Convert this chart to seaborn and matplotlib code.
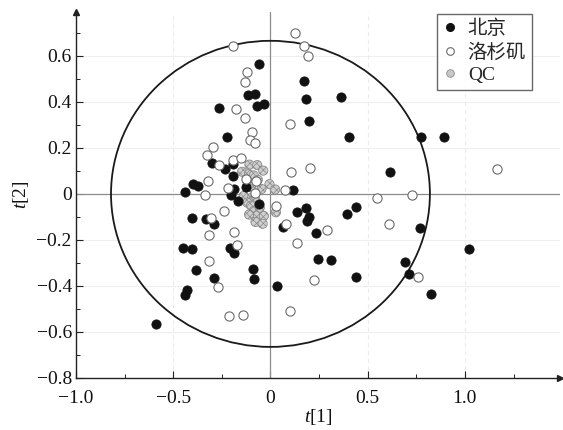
import numpy as np
import pandas as pd
import matplotlib
matplotlib.use("Agg")
import matplotlib.pyplot as plt
from matplotlib.patches import Ellipse
from matplotlib.lines import Line2D
from matplotlib.ticker import MultipleLocator, FixedLocator
import seaborn as sns

# ---------------- data ----------------
beijing_x = [-0.057, -0.115, -0.077, -0.067, -0.034, -0.264, -0.226, 0.175, 0.182, 0.365,
             0.197, 0.405, 0.617, 0.776, 0.891, 0.117, 0.134, 0.182, 0.197, 0.189,
             0.062, 0.233, 0.394, 0.442, 0.770, 1.020, 0.247, 0.310, 0.691, 0.711,
             0.439, 0.826, 0.036, -0.089, -0.086, -0.060, -0.437, -0.398, -0.375, -0.302,
             -0.233, -0.195, -0.192, -0.185, -0.204, -0.166, -0.127, -0.403, -0.331, -0.290,
             -0.452, -0.403, -0.382, -0.288, -0.427, -0.441, -0.206, -0.190, -0.590]
beijing_y = [0.564, 0.431, 0.432, 0.383, 0.392, 0.374, 0.245, 0.492, 0.412, 0.422,
             0.316, 0.245, 0.093, 0.249, 0.245, 0.016, -0.079, -0.061, -0.100, -0.118,
             -0.142, -0.169, -0.089, -0.057, -0.150, -0.241, -0.285, -0.287, -0.298, -0.348,
             -0.362, -0.437, -0.399, -0.326, -0.370, -0.045, 0.006, 0.042, 0.032, 0.133,
             0.108, 0.076, 0.130, 0.021, -0.006, -0.030, 0.031, -0.105, -0.111, -0.132,
             -0.236, -0.241, -0.332, -0.365, -0.416, -0.438, -0.237, -0.258, -0.566]

la_x = [-0.194, -0.123, -0.132, -0.178, -0.129, -0.093, -0.104, -0.081, -0.298, 0.125,
        0.170, 0.194, 0.099, 0.108, 0.201, -0.326, -0.264, -0.194, -0.153, -0.322,
        -0.339, -0.216, -0.127, -0.072, 0.074, -0.240, -0.308, -0.314, -0.185, -0.173,
        -0.315, -0.269, -0.214, -0.142, 0.031, 0.081, 0.135, 0.099, 0.291, 0.225,
        0.548, 0.728, 0.612, 0.757, 1.167, -0.081]
la_y = [0.644, 0.530, 0.486, 0.367, 0.329, 0.269, 0.234, 0.220, 0.203, 0.697,
        0.644, 0.597, 0.304, 0.096, 0.112, 0.169, 0.127, 0.147, 0.155, 0.055,
        -0.003, 0.026, 0.065, 0.057, 0.017, -0.076, -0.103, -0.180, -0.164, -0.223,
        -0.292, -0.405, -0.530, -0.525, -0.052, -0.132, -0.212, -0.511, -0.157, -0.375,
        -0.020, -0.004, -0.131, -0.362, 0.108, 0.003]

qc_x = [-0.108, -0.068, -0.037, -0.146, -0.111, -0.086, -0.065, -0.120, -0.005, 0.024,
        -0.046, -0.100, -0.137, -0.094, -0.077, -0.120, -0.100, -0.086, -0.068, -0.034,
        -0.077, -0.040, 0.028, -0.110, -0.055]
qc_y = [0.127, 0.125, 0.101, 0.096, 0.086, 0.080, 0.061, 0.055, 0.042, 0.019,
        0.021, 0.030, -0.009, -0.016, -0.026, -0.038, -0.052, -0.074, -0.092, -0.096,
        -0.122, -0.130, -0.080, -0.090, -0.060]

labels = ["北京", "洛杉矶", "QC"]
x_ticks = [-1.0, -0.5, 0.0, 0.5, 1.0]
x_tick_labels = ["\u22121.0", "\u22120.5", "0", "0.5", "1.0"]
y_ticks = [-0.8, -0.6, -0.4, -0.2, 0.0, 0.2, 0.4, 0.6]
y_tick_labels = ["\u22120.8", "\u22120.6", "\u22120.4", "\u22120.2", "0", "0.2", "0.4", "0.6"]
ellipse_a, ellipse_b = 0.82, 0.665   # Hotelling T2 ellipse semi-axes

# ---------------- style ----------------
sns.set_theme(style="white")
plt.rcParams["font.family"] = ["Liberation Serif", "Noto Sans CJK SC"]
plt.rcParams["mathtext.fontset"] = "custom"
plt.rcParams["mathtext.it"] = "Liberation Serif:italic"
plt.rcParams["mathtext.rm"] = "Liberation Serif"
plt.rcParams["hatch.linewidth"] = 0.5

fig = plt.figure(figsize=(5.63, 4.30), dpi=100)
ax = fig.add_axes([0.135, 0.121, 0.86, 0.851])
ax.set_xlim(-1.0, 1.49)
ax.set_ylim(-0.8, 0.79)

# grid
for yv in y_ticks[1:]:
    ax.axhline(yv, color="#efefef", lw=0.8, zorder=0)
for xv in [-0.5, 0.5, 1.0]:
    ax.axvline(xv, color="#ececec", lw=0.8, ls=(0, (4, 3)), zorder=0)
ax.axhline(0, color="#8c8c8c", lw=0.9, zorder=1)
ax.axvline(0, color="#8c8c8c", lw=0.9, zorder=1)

# ellipse
ax.add_patch(Ellipse((0, 0), 2 * ellipse_a, 2 * ellipse_b, fill=False,
                     edgecolor="#1a1a1a", lw=1.3, zorder=2))

df_bj = pd.DataFrame({"x": beijing_x, "y": beijing_y})
df_la = pd.DataFrame({"x": la_x, "y": la_y})
df_qc = pd.DataFrame({"x": qc_x, "y": qc_y})

sns.scatterplot(data=df_qc, x="x", y="y", ax=ax, s=44, color="#d0d0d0",
                edgecolor="#8a8a8a", linewidth=0.6, hatch="xxxxx", zorder=3, legend=False)
sns.scatterplot(data=df_bj, x="x", y="y", ax=ax, s=44, color="#111111",
                edgecolor="#111111", linewidth=0.6, zorder=4, legend=False)
sns.scatterplot(data=df_la, x="x", y="y", ax=ax, s=44, color="white",
                edgecolor="#6a6a6a", linewidth=0.8, zorder=5, legend=False)

# spines and arrows
for s in ["top", "right"]:
    ax.spines[s].set_visible(False)
for s in ["left", "bottom"]:
    ax.spines[s].set_color("#222222")
    ax.spines[s].set_linewidth(1.0)
ax.plot(1, 0, ">", transform=ax.transAxes, color="#222222", ms=5, clip_on=False, zorder=6)
ax.plot(0, 1, "^", transform=ax.transAxes, color="#222222", ms=5, clip_on=False, zorder=6)

ax.xaxis.set_major_locator(FixedLocator(x_ticks))
ax.set_xticklabels(x_tick_labels)
ax.yaxis.set_major_locator(FixedLocator(y_ticks))
ax.set_yticklabels(y_tick_labels)
ax.xaxis.set_minor_locator(MultipleLocator(0.25))
ax.yaxis.set_minor_locator(MultipleLocator(0.1))
ax.tick_params(axis="both", which="major", direction="in", length=5, width=0.8,
               color="#222222", labelsize=14, labelcolor="#111111",
               bottom=True, left=True)
ax.tick_params(axis="x", which="major", pad=9)
ax.tick_params(axis="y", which="major", pad=3)
ax.tick_params(axis="both", which="minor", direction="in", length=3, width=0.7,
               color="#222222", bottom=True, left=True)

ax.set_xlabel("$t$[1]", fontsize=14, color="#111111", labelpad=0)
ax.set_ylabel("$t$[2]", fontsize=14, color="#111111", labelpad=4)

# legend
handles = [
    Line2D([], [], marker="o", ls="", ms=5.5, mfc="#111111", mec="#111111"),
    Line2D([], [], marker="o", ls="", ms=5.5, mfc="white", mec="#6a6a6a", mew=0.8),
    Line2D([], [], marker="o", ls="", ms=5.5, mfc="#c8c8c8", mec="#8a8a8a", mew=0.6),
]
leg = ax.legend(handles, labels, loc="upper right", bbox_to_anchor=(0.942, 0.995),
                borderaxespad=0, frameon=True, fancybox=False, handlelength=0.8,
                handletextpad=0.5, borderpad=0.3, labelspacing=0.25,
                prop={"family": ["Liberation Serif", "Noto Sans CJK SC"], "size": 14})
leg.get_frame().set_edgecolor("#444444")
leg.get_frame().set_linewidth(1.0)

fig.savefig("out.png", dpi=100)
